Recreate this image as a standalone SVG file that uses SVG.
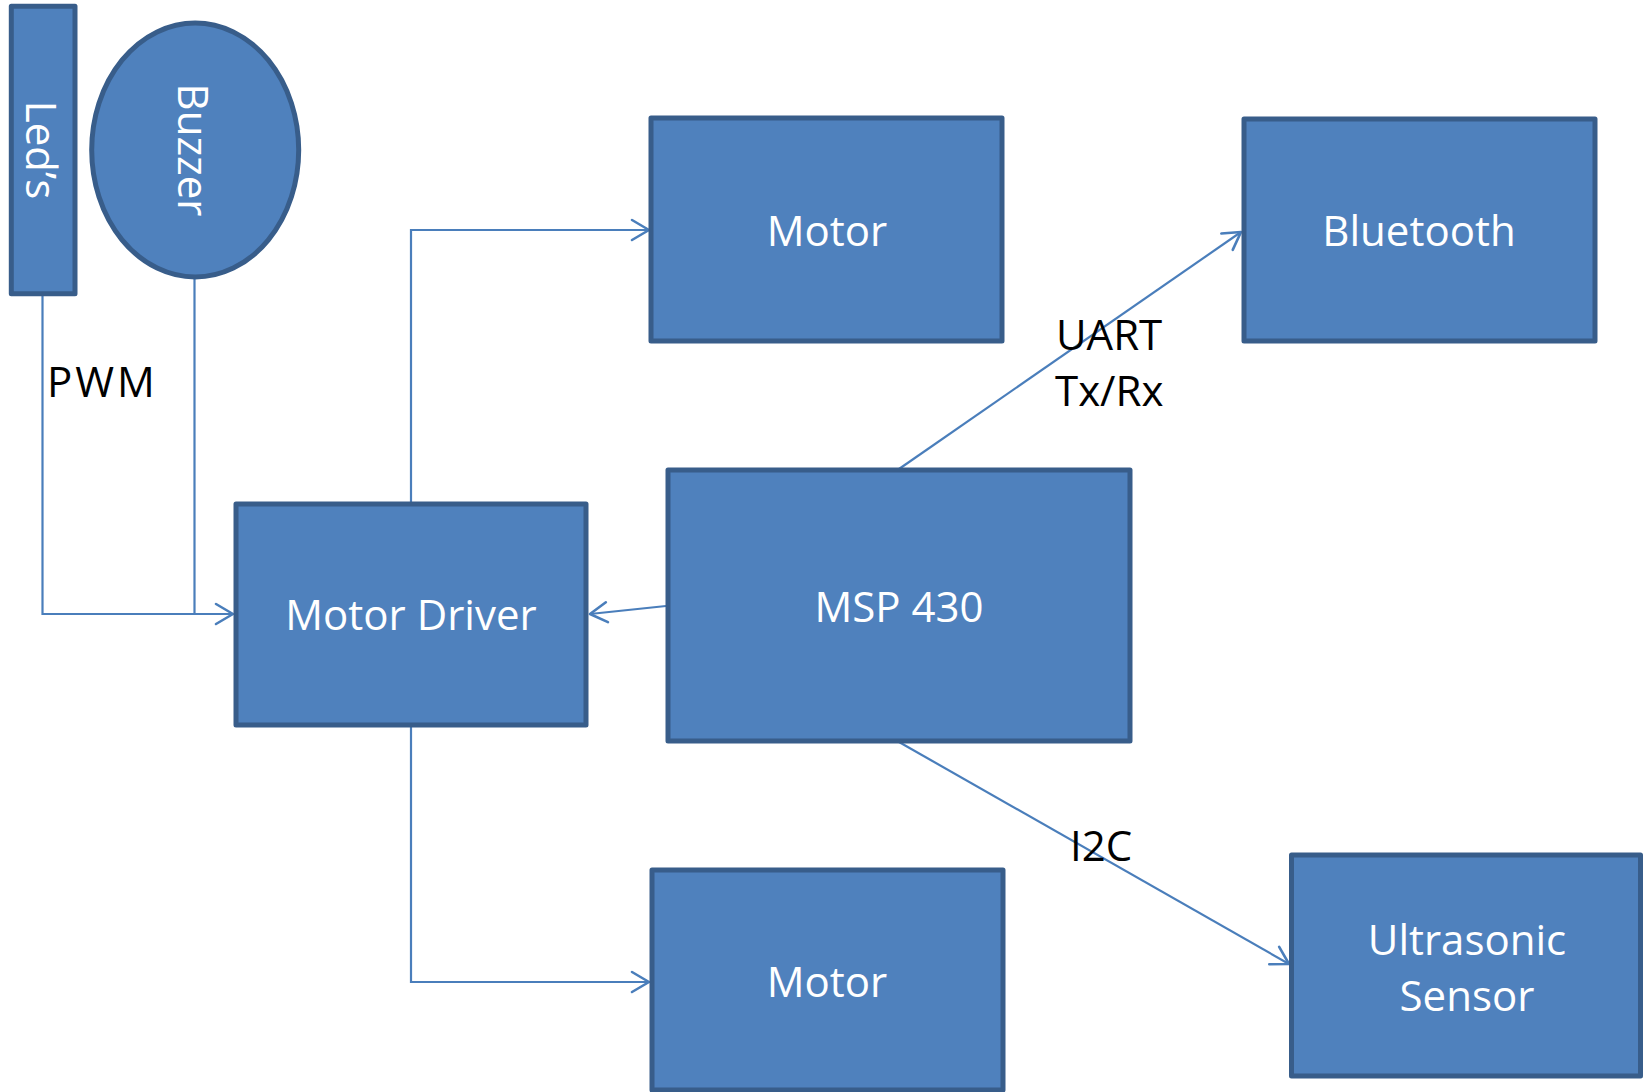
<svg xmlns="http://www.w3.org/2000/svg" width="1643" height="1092" viewBox="0 0 1643 1092">
<style>
.box{fill:#4F81BD;stroke:#385D8A;stroke-width:5;stroke-linejoin:round}
.lbl{font-family:"Open Sans","Liberation Sans",sans-serif;font-size:42px;fill:#FFFFFF;text-anchor:middle}
.ext{font-family:"Open Sans","Liberation Sans",sans-serif;font-size:42px;fill:#000000}
.conn{fill:none;stroke:#4A7EBB;stroke-width:2.2}
</style>
<defs>
<marker id="arr" markerUnits="userSpaceOnUse" markerWidth="40" markerHeight="40" viewBox="-20 -20 40 40" refX="0" refY="0" orient="auto" overflow="visible">
<path d="M-17,-10 L0,0 L-17,10" fill="none" stroke="#4A7EBB" stroke-width="2.6" stroke-linecap="round" stroke-linejoin="round"/>
</marker>
</defs>
<rect width="1643" height="1092" fill="#FFFFFF"/>
<g id="connectors">
<path class="conn" d="M42.5,296 V614 H233" marker-end="url(#arr)"/>
<path class="conn" d="M194.5,279 V614"/>
<path class="conn" d="M411,502 V230 H649" marker-end="url(#arr)"/>
<path class="conn" d="M411,727 V982 H649" marker-end="url(#arr)"/>
<path class="conn" d="M666,606 L590,614" marker-end="url(#arr)"/>
<path class="conn" d="M899,469 L1241,232" marker-end="url(#arr)"/>
<path class="conn" d="M899,742 L1289,964" marker-end="url(#arr)"/>
</g>
<g id="leds">
<rect class="box" x="11.3" y="6.3" width="63.7" height="287.4"/>
<text class="lbl" transform="translate(26,150) rotate(90)" x="0" y="0">Led’s</text>
</g>
<g id="buzzer">
<ellipse class="box" cx="195.2" cy="150" rx="103.5" ry="127"/>
<text class="lbl" transform="translate(178,150) rotate(90)" x="0" y="0">Buzzer</text>
</g>
<g id="motor-top">
<rect class="box" x="651" y="118" width="351" height="223"/>
<text class="lbl" x="827" y="246">Motor</text>
</g>
<g id="bluetooth">
<rect class="box" x="1244" y="119" width="351" height="222"/>
<text class="lbl" x="1419" y="246">Bluetooth</text>
</g>
<g id="motor-driver">
<rect class="box" x="236" y="504" width="350" height="221"/>
<text class="lbl" x="411" y="630">Motor Driver</text>
</g>
<g id="msp430">
<rect class="box" x="668" y="470" width="462" height="271"/>
<text class="lbl" x="899" y="622">MSP 430</text>
</g>
<g id="motor-bottom">
<rect class="box" x="652" y="870" width="351" height="220"/>
<text class="lbl" x="827" y="997">Motor</text>
</g>
<g id="ultrasonic">
<rect class="box" x="1291.5" y="855" width="349" height="221"/>
<text class="lbl" x="1467" y="955">Ultrasonic</text>
<text class="lbl" x="1467" y="1011">Sensor</text>
</g>
<g id="labels">
<text class="ext" x="47" y="397" letter-spacing="3">PWM</text>
<text class="ext" x="1056" y="350">UART</text>
<text class="ext" x="1055" y="406">Tx/Rx</text>
<text class="ext" x="1070" y="861">I2C</text>
</g>
</svg>
